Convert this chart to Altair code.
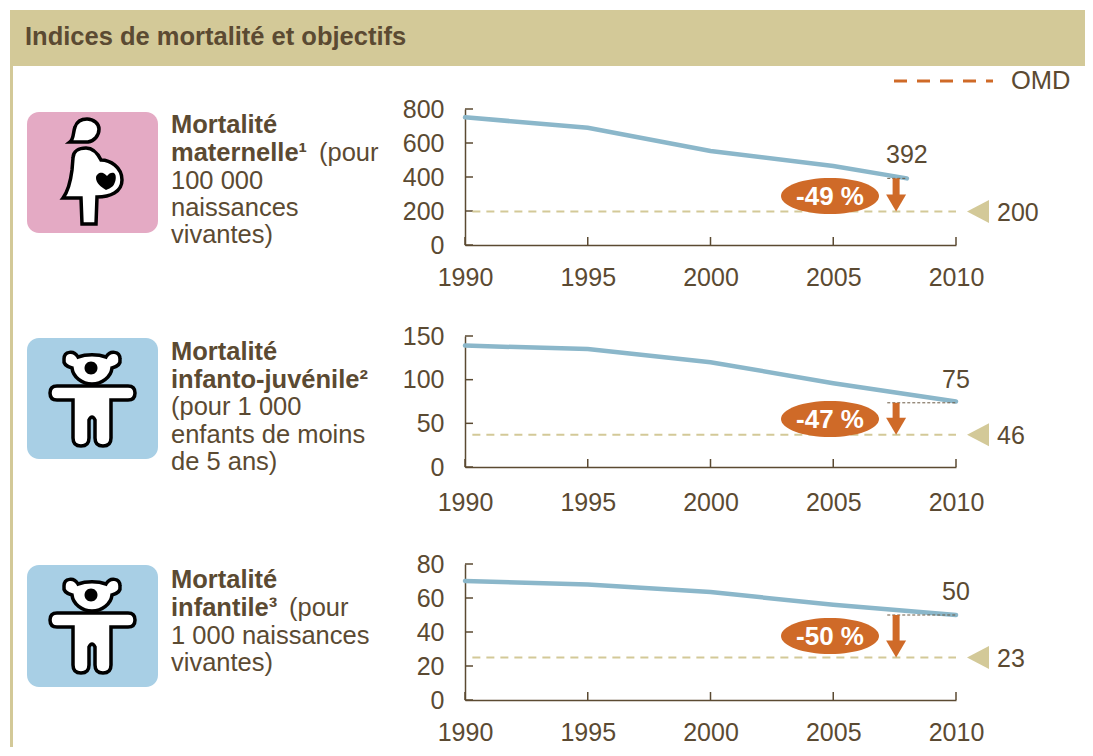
import altair as alt
import pandas as pd

# ---- data ----
years_mat = [1990, 1995, 2000, 2005, 2008]
vals_mat = [751, 690, 553, 465, 392]
years_inf = [1990, 1995, 2000, 2005, 2010]
vals_juv = [139, 135, 120, 96, 75]
vals_nou = [70, 68, 63.5, 56, 50]
x_ticks = [1990, 1995, 2000, 2005, 2010]
y_ticks_mat = [0, 200, 400, 600, 800]
y_ticks_juv = [0, 50, 100, 150]
y_ticks_nou = [0, 20, 40, 60, 80]
targets_drawn = [197, 37, 25]
target_labels = ["200", "46", "23"]
end_labels = ["392", "75", "50"]
end_years = [2008, 2010, 2010]
end_vals = [392, 73.5, 50]
shaft_ends = [294, 55, 34]
pct_labels = ["-49 %", "-47 %", "-50 %"]
arrow_year = 2007.56
TITLE = "Indices de mortalité et objectifs"
LEGEND = "OMD"

BROWN = "#5b4a32"
BAND = "#d3c998"
LINE = "#8bb7ca"
ORANGE = "#cf6a28"
PINK = "#e4aac4"
BLUE = "#a8cfe5"
FONT = "Liberation Sans"
FS = 25
FT = 25.5

PANEL_W = 491
X0 = 465  # page x of the plot areas


def one(**k):
    return alt.Chart(pd.DataFrame({k2: [v] for k2, v in k.items()} or {"a": [0]}))


def txt(s, x, y, top, bold=False, size=FT, color=BROWN, align="left"):
    return one(t=s).mark_text(
        font=FONT, fontSize=size, fontWeight="bold" if bold else "normal",
        color=color, align=align, baseline="alphabetic",
    ).encode(x=alt.value(x - X0), y=alt.value(y - top), text="t:N")


def rect(x1, x2, y1, y2, top, color, radius=0):
    return one().mark_rect(color=color, cornerRadius=radius, opacity=1).encode(
        x=alt.value(x1 - X0), x2=alt.value(x2 - X0),
        y=alt.value(y1 - top), y2=alt.value(y2 - top))


def shape(path, x, y, top, fill, stroke=None, sw=0):
    kw = dict(shape=path, size=4, filled=True, fill=fill, opacity=1, fillOpacity=1)
    if stroke:
        kw.update(stroke=stroke, strokeWidth=sw)
    else:
        kw.update(strokeWidth=0)
    return one().mark_point(**kw).encode(x=alt.value(x - X0), y=alt.value(y - top))


ELLIPSE = "M-49 0 A49 18 0 1 1 49 0 A49 18 0 1 1 -49 0 Z"
TRI_LEFT = "M-11 0 L11 -11.5 L11 11.5 Z"
TIP_DOWN = "M0 0 L-10 -17 L10 -17 Z"
CHILD_BODY = ("M57 48 L128 48 Q135 48 135 55 Q135 62 128 62 L111 62 L111 100 Q111 108 103 108 "
              "Q95 108 95 100 L95 82 Q92 76 89 82 L89 100 Q89 108 81 108 Q73 108 73 100 L73 62 "
              "L57 62 Q50 62 50 55 Q50 48 57 48 Z")
CHILD_HEAD = ("M78 19 C74 12 64 13 64 21 C63 27 68 29 72 30 C73 39 82 46 92 46 C102 46 111 39 112 30 "
              "C116 29 121 27 120 21 C120 13 110 12 106 19 C98 16 86 16 78 19 Z")
CHILD_DOT = "M84.5 30 A6.5 6.5 0 1 1 97.5 30 A6.5 6.5 0 1 1 84.5 30 Z"
MOM_BODY = ("M73 158 C73 151 79 148 86 148 C93 148 98 154 101 160 C110 160 122 167 122 180 "
            "C122 192 110 197 97 197 L96 224 L82 224 L81 198 L63 198 C69 190 71 178 72 170 Z")
MOM_HEAD = ("M70 142 C74 139 73 132 75 127 C77 121 82 119 87 119 C94 119 99 124 99 129 "
            "C99 136 94 141 88 142 Z")
MOM_HEART = ("M106 190 C101 187 96 183 96 178 C96 174 100 172 103 173 C105 174 106 175 107 176 "
             "C109 173 112 172 114 173 C117 175 116 182 113 186 C111 188 108 189 106 190 Z")


def panel(idx, years, vals, yticks, ymax, plot_h, layout_h, top, ell_y, label_pad=20):
    xs = alt.Scale(domain=[1990, 2010], nice=False, zero=False)
    ys = alt.Scale(domain=[0, ymax], nice=False, zero=False, range=[plot_h, 0])
    off = layout_h - plot_h
    xaxis = alt.Axis(values=x_ticks, format="d", title=None, ticks=False, grid=False,
                     labelFont=FONT, labelFontSize=FS, labelColor=BROWN, labelPadding=label_pad,
                     domainColor=BROWN, domainWidth=1.5, offset=-off, labelOverlap=False, labelFlush=False)
    yaxis = alt.Axis(values=yticks, title=None, ticks=False, grid=False,
                     labelFont=FONT, labelFontSize=FS, labelColor=BROWN, labelPadding=21,
                     domainColor=BROWN, domainWidth=1.5, labelOverlap=False)
    X = lambda f="x": alt.X(f"{f}:Q", scale=xs, axis=xaxis)
    Y = lambda f="y": alt.Y(f"{f}:Q", scale=ys, axis=yaxis)
    target = targets_drawn[idx]

    base = alt.Chart(pd.DataFrame({"x": years, "y": vals}))
    ytk = alt.Chart(pd.DataFrame({"y": yticks})).mark_rule(color=BROWN, strokeWidth=1.5).encode(
        y=Y(), x=alt.value(0), x2=alt.value(8))
    xtk = alt.Chart(pd.DataFrame({"x": x_ticks})).mark_rule(color=BROWN, strokeWidth=1.5).encode(
        x=X(), y=alt.value(plot_h), y2=alt.value(plot_h - 8))
    tline = alt.Chart(pd.DataFrame({"x": [1990.3], "x2": [2010], "y": [target]})).mark_rule(
        color=BAND, strokeWidth=2, strokeDash=[8, 6]).encode(x=X(), x2="x2:Q", y=Y())
    line = base.mark_line(color=LINE, strokeWidth=4.5, strokeCap="round").encode(x=X(), y=Y())
    shaft = alt.Chart(pd.DataFrame({"x": [arrow_year], "y": [end_vals[idx]], "y2": [shaft_ends[idx]]})).mark_rule(
        color=ORANGE, strokeWidth=7).encode(x=X(), y=Y(), y2="y2:Q")
    tip = alt.Chart(pd.DataFrame({"x": [arrow_year], "y": [target]})).mark_point(
        shape=TIP_DOWN, size=4, filled=True, fill=ORANGE, opacity=1, strokeWidth=0).encode(x=X(), y=Y())
    ref = alt.Chart(pd.DataFrame({"x": [2007.2], "x2": [end_years[idx]], "y": [end_vals[idx]]})).mark_rule(
        color="#6b5b45", strokeWidth=1, strokeDash=[3, 2]).encode(x=X(), x2="x2:Q", y=Y())
    end_txt = alt.Chart(pd.DataFrame({"x": [end_years[idx]], "y": [end_vals[idx]], "t": [end_labels[idx]]})).mark_text(
        font=FONT, fontSize=FS, color=BROWN, align="center", baseline="alphabetic", dy=-15).encode(
        x=X(), y=Y(), text="t:N")
    tri = alt.Chart(pd.DataFrame({"y": [target]})).mark_point(
        shape=TRI_LEFT, size=4, filled=True, fill=BAND, opacity=1, strokeWidth=0).encode(
        x=alt.value(978 - X0), y=Y())
    t_txt = alt.Chart(pd.DataFrame({"y": [target], "t": [target_labels[idx]]})).mark_text(
        font=FONT, fontSize=FS, color=BROWN, align="left", baseline="alphabetic", dy=9).encode(
        x=alt.value(997 - X0), y=Y(), text="t:N")
    ell = shape(ELLIPSE, 830, ell_y, top, ORANGE)
    pct = txt(pct_labels[idx], 830, ell_y + 9, top, bold=True, color="white", align="center", size=26)
    return [ytk, xtk, tline, line, ref, shaft, tip, end_txt, tri, t_txt, ell, pct]


T1, T2, T3 = 109, 336, 564
LX = 171
deco1 = [
    rect(10, 1085, 10, 66, T1, BAND),
    rect(10, 13, 66, 747, T1, BAND),
    txt(TITLE, 25, 45, T1, bold=True),
    one(x=0).mark_rule(color=ORANGE, strokeWidth=3, strokeDash=[13, 10]).encode(
        x=alt.value(894 - X0), x2=alt.value(993 - X0), y=alt.value(81 - T1)),
    txt(LEGEND, 1011, 89, T1),
    rect(27, 158, 112, 233, T1, PINK, 12),
    shape(MOM_HEAD, 0, 0, T1, "white", "black", 3.5),
    shape(MOM_BODY, 0, 0, T1, "white", "black", 3.5),
    shape(MOM_HEART, 0, 0, T1, "black"),
    txt("Mortalité", LX, 133, T1, bold=True),
    txt("maternelle¹", LX, 161, T1, bold=True),
    txt("(pour", 319, 161, T1),
    txt("100 000", LX, 189, T1),
    txt("naissances", LX, 216, T1),
    txt("vivantes)", LX, 243, T1),
]
p1 = alt.layer(*(deco1 + panel(0, years_mat, vals_mat, y_ticks_mat, 800, 136, 136, T1, 196))).properties(
    width=PANEL_W, height=136)

deco2 = [
    rect(27, 158, 338, 459, T2, BLUE, 12),
    shape(CHILD_HEAD, 0, 338, T2, "white", "black", 3.5),
    shape(CHILD_DOT, 0, 338, T2, "black"),
    shape(CHILD_BODY, 0, 338, T2, "white", "black", 3.5),
    txt("Mortalité", LX, 360, T2, bold=True),
    txt("infanto-juvénile²", LX, 388, T2, bold=True),
    txt("(pour 1 000", LX, 415, T2),
    txt("enfants de moins", LX, 443, T2),
    txt("de 5 ans)", LX, 470, T2),
]
p2 = alt.layer(*(deco2 + panel(1, years_inf, vals_juv, y_ticks_juv, 150, 131, 137, T2, 419, label_pad=23))).properties(
    width=PANEL_W, height=137)

deco3 = [
    rect(27, 158, 565, 687, T3, BLUE, 12),
    shape(CHILD_HEAD, 0, 565, T3, "white", "black", 3.5),
    shape(CHILD_DOT, 0, 565, T3, "black"),
    shape(CHILD_BODY, 0, 565, T3, "white", "black", 3.5),
    txt("Mortalité", LX, 588, T3, bold=True),
    txt("infantile³", LX, 616, T3, bold=True),
    txt("(pour", 289, 616, T3),
    txt("1 000 naissances", LX, 644, T3),
    txt("vivantes)", LX, 671, T3),
]
p3 = alt.layer(*(deco3 + panel(2, years_inf, vals_nou, y_ticks_nou, 80, 136, 136, T3, 636))).properties(
    width=PANEL_W, height=136)

chart = alt.vconcat(p1, p2, p3, spacing=91, bounds="flush").properties(
    padding={"left": 2, "top": 2, "right": 0, "bottom": 0},
    background="white",
).configure_view(stroke=None)

chart.save("out.html", embed_options={"renderer": "svg", "actions": False})
